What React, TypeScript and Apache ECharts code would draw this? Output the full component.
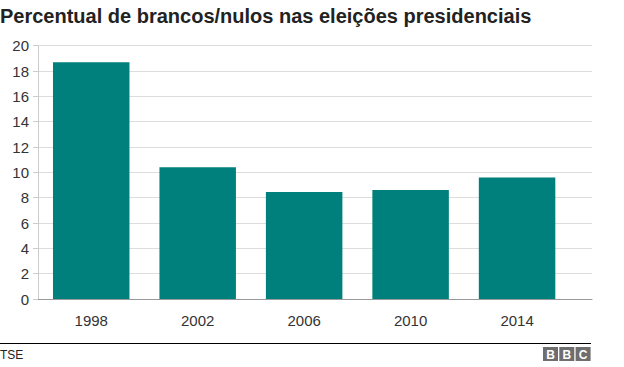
import React, { useEffect, useRef } from "react";
import * as echarts from "echarts";

const years = ["1998", "2002", "2006", "2010", "2014"];
const percent = [18.7, 10.4, 8.45, 8.6, 9.6];
const titleText = "Percentual de brancos/nulos nas eleições presidenciais";
const sourceText = "TSE";
const logoLetters = ["B", "B", "C"];

export default function App() {
  const ref = useRef<HTMLDivElement>(null);
  useEffect(() => {
    document.body.style.margin = "0";
    if (!ref.current) return;
    const chart = echarts.init(ref.current, undefined, { renderer: "svg" });
    const font = "Liberation Sans, Arial, Helvetica, sans-serif";
    const top = 45.7;
    const bottom = 68;
    chart.setOption({
      animation: false,
      textStyle: { fontFamily: font },
      grid: [
        { left: 38, right: 32, top, bottom },
        { left: 38, right: 53.7, top, bottom },
      ],
      xAxis: [
        {
          type: "value",
          gridIndex: 0,
          min: 0,
          max: 1,
          axisLine: { show: true, lineStyle: { color: "#999", width: 1 } },
          axisTick: { show: false },
          axisLabel: { show: false },
          splitLine: { show: false },
        },
        {
          type: "category",
          gridIndex: 1,
          data: years,
          axisLine: { show: false },
          axisTick: { show: false },
          axisLabel: { color: "#333", fontSize: 15, margin: 14, fontFamily: font },
        },
      ],
      yAxis: [
        {
          type: "value",
          gridIndex: 0,
          min: 0,
          max: 20,
          interval: 2,
          axisLine: { show: true, lineStyle: { color: "#ccc" } },
          axisTick: { show: true, length: 5, lineStyle: { color: "#ccc" } },
          axisLabel: { color: "#333", fontSize: 15, margin: 9, fontFamily: font },
          splitLine: { show: true, lineStyle: { color: "#dddddd" } },
        },
        {
          type: "value",
          gridIndex: 1,
          min: 0,
          max: 20,
          interval: 2,
          show: false,
          splitLine: { show: false },
        },
      ],
      series: [
        {
          type: "bar",
          xAxisIndex: 1,
          yAxisIndex: 1,
          data: percent,
          barWidth: 76.5,
          itemStyle: { color: "#00807c" },
        },
      ],
      graphic: [
        {
          type: "text",
          x: 0,
          y: 16,
          style: {
            text: titleText,
            font: `bold 20px ${font}`,
            fill: "#222",
            verticalAlign: "middle",
          },
        },
        {
          type: "line",
          shape: { x1: 0, y1: 343.5, x2: 591, y2: 343.5 },
          style: { stroke: "#000", lineWidth: 1 },
        },
        {
          type: "text",
          x: 0,
          y: 355,
          style: { text: sourceText, font: `12px ${font}`, fill: "#222", verticalAlign: "middle" },
        },
        ...logoLetters.flatMap((ch, i) => [
          {
            type: "rect",
            shape: { x: 543 + i * 16.3, y: 347, width: 15, height: 14 },
            style: { fill: "#6e6e6e" },
          },
          {
            type: "text",
            x: 550.5 + i * 16.3,
            y: 354.5,
            style: {
              text: ch,
              font: `bold 12px ${font}`,
              fill: "#fff",
              align: "center",
              verticalAlign: "middle",
            },
          },
        ]),
      ],
    });
    return () => chart.dispose();
  }, []);
  return <div ref={ref} style={{ width: 624, height: 367 }} />;
}
